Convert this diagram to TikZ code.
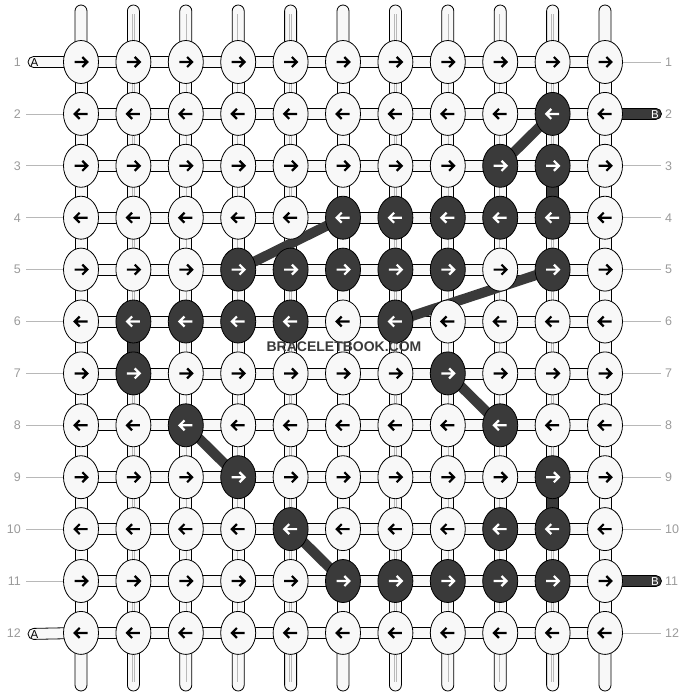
\documentclass[tikz,border=0pt]{standalone}
\usepackage{fontspec}
\setmainfont{Liberation Sans}
\usetikzlibrary{shapes.geometric}
\definecolor{lt}{HTML}{F8F8F8}
\definecolor{dk}{HTML}{3A3A3A}
\definecolor{lbl}{HTML}{9A9A9A}
\definecolor{ctr}{HTML}{B8B8B8}
\pgfdeclarelayer{bg}
\pgfsetlayers{bg,main}
\tikzset{
  bead/.style={ellipse, draw=black, line width=0.8pt, minimum width=35pt, minimum height=43pt, inner sep=0pt},
  beadlt/.style={bead, fill=lt},
  beaddk/.style={bead, fill=dk},
  tube/.style={draw=black, fill=lt, line width=0.8pt},
  darktube/.style={draw=black, fill=dk, line width=0.8pt},
  centerline/.style={draw=ctr, line width=0.6pt, double=lt, double distance=1.2pt},
  diaglink/.style={draw=dk, line width=10pt},
  glyph/.style={line width=2.2pt, line cap=butt, line join=miter},
  rowlbl/.style={text=lbl, font=\fontsize{12.5}{14}\selectfont, inner sep=0pt},
  guide/.style={draw=lbl!70, line width=0.8pt},
  taillbl/.style={font=\fontsize{11.5}{13}\selectfont, inner sep=0pt},
  watermark/.style={text=dk, font=\bfseries\fontsize{14}{16}\selectfont, inner sep=0pt}
}
\foreach \d in {2-10,3-9,3-10,4-6,4-7,4-8,4-9,4-10,5-4,5-5,5-6,5-7,5-8,5-10,6-2,6-3,6-4,6-5,6-7,7-2,7-8,8-3,8-9,9-4,9-10,10-5,10-9,10-10,11-6,11-7,11-8,11-9,11-10}{\expandafter\gdef\csname dk\d\endcsname{}}
\foreach \d in {3-10,6-2,9-10}{\expandafter\gdef\csname dv\d\endcsname{}}
\begin{document}
\begin{tikzpicture}[x=1pt,y=-1pt]
\useasboundingbox (0,0) rectangle (688,696);
% beads
\foreach \r in {1,...,12}{
  \foreach \c in {1,...,11}{
    \pgfmathsetmacro\xx{81+52.4*(\c-1)}
    \pgfmathsetmacro\yy{62+51.9*(\r-1)}
    \ifcsname dk\r-\c\endcsname
      \node[beaddk] (n-\r-\c) at (\xx,\yy) {};
    \else
      \node[beadlt] (n-\r-\c) at (\xx,\yy) {};
    \fi
  }
}
% end points of the strands
\foreach \c in {1,...,11}{
  \pgfmathsetmacro\xx{81+52.4*(\c-1)}
  \coordinate (t-\c) at (\xx,11);
  \coordinate (b-\c) at (\xx,685);
}
\coordinate (a1) at (28,62);
\coordinate (a12) at (28,633.9);
\coordinate (b2) at (656,113.9);
\coordinate (b11) at (656,581);
\begin{pgfonlayer}{bg}
  % vertical strands
  \foreach \c in {1,...,11}{
    \draw[tube] ([xshift=-6pt]n-1-\c.center) -- ([xshift=-6pt]t-\c) arc (180:0:6pt) -- ([xshift=6pt]n-1-\c.center) -- cycle;
    \draw[tube] ([xshift=-6pt]n-12-\c.center) -- ([xshift=-6pt]b-\c) arc (180:360:6pt) -- ([xshift=6pt]n-12-\c.center) -- cycle;
    \foreach \r [evaluate=\r as \rr using int(\r+1)] in {1,...,11}{
      \draw[tube] ([xshift=-6pt]n-\r-\c.center) rectangle ([xshift=6pt]n-\rr-\c.center);
    }
    \draw[centerline] ([yshift=-3pt]t-\c) -- ([yshift=3pt]b-\c);
    \foreach \r [evaluate=\r as \rr using int(\r+1)] in {1,...,11}{
      \ifcsname dv\r-\c\endcsname
        \draw[darktube] ([xshift=-6pt]n-\r-\c.center) rectangle ([xshift=6pt]n-\rr-\c.center);
      \fi
    }
  }
  % horizontal links
  \foreach \r in {1,...,12}{
    \foreach \c [evaluate=\c as \cc using int(\c+1)] in {1,...,10}{
      \draw[tube] ([yshift=5.5pt]n-\r-\c.center) rectangle ([yshift=-5.5pt]n-\r-\cc.center);
    }
  }
  % tails
  \draw[tube] ([yshift=5.5pt]n-1-1.center) -- ([yshift=5.5pt,xshift=5.5pt]a1) arc (90:270:5.5pt) -- ([yshift=-5.5pt]n-1-1.center) -- cycle;
  \draw[tube] ([yshift=5.5pt]n-12-1.center) -- ([yshift=5.5pt,xshift=5.5pt]a12) arc (90:270:5.5pt) -- ([yshift=-5.5pt]n-12-1.center) -- cycle;
  \draw[darktube] ([yshift=5.5pt]n-2-11.center) -- ([yshift=5.5pt]b2) arc (90:-90:5.5pt) -- ([yshift=-5.5pt]n-2-11.center) -- cycle;
  \draw[darktube] ([yshift=5.5pt]n-11-11.center) -- ([yshift=5.5pt]b11) arc (90:-90:5.5pt) -- ([yshift=-5.5pt]n-11-11.center) -- cycle;
  % diagonal links of the dark strand
  \draw[diaglink] (n-2-10.center) -- (n-3-9.center);
  \draw[diaglink] (n-4-6.center) -- (n-5-4.center);
  \draw[diaglink] (n-5-10.center) -- (n-6-7.center);
  \draw[diaglink] (n-7-8.center) -- (n-8-9.center);
  \draw[diaglink] (n-8-3.center) -- (n-9-4.center);
  \draw[diaglink] (n-10-5.center) -- (n-11-6.center);
\end{pgfonlayer}
% arrows
\foreach \r in {1,...,12}{
  \pgfmathsetmacro\s{ifthenelse(mod(\r,2)==1,1,-1)}
  \foreach \c in {1,...,11}{
    \ifcsname dk\r-\c\endcsname\def\ac{white}\else\def\ac{black}\fi
    \draw[glyph, draw=\ac, shift={(n-\r-\c.center)}, xscale=\s] (-6.5,0) -- (6.2,0) (1.3,-5) -- (6.3,0) -- (1.3,5);
  }
}
% tail letters
\node[taillbl] (la1) at (34.5,62.5) {A};
\node[taillbl] (la12) at (34.5,634.4) {A};
\node[taillbl, text=white] (lb2) at (655,114.4) {B};
\node[taillbl, text=white] (lb11) at (655,581.5) {B};
% row labels and guide lines
\foreach \r in {1,...,12}{
  \pgfmathsetmacro\yy{62+51.9*(\r-1)}
  \node[rowlbl, anchor=east] (ll-\r) at (21,\yy) {\r};
  \node[rowlbl, anchor=west] (rl-\r) at (665,\yy) {\r};
}
\foreach \r in {2,...,11}{
  \draw[guide] (26,0 |- n-\r-1.west) -- (n-\r-1.west);
}
\foreach \r in {1,3,4,5,6,7,8,9,10,12}{
  \draw[guide] (n-\r-11.east) -- (661,0 |- n-\r-11.east);
}
\node[watermark] (wm) at (344,347) {BRACELETBOOK.COM};
\end{tikzpicture}
\end{document}
